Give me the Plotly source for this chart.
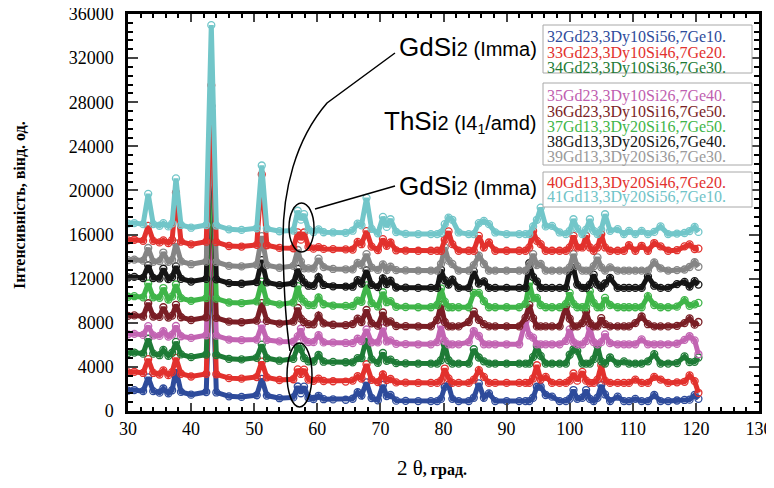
import plotly.graph_objects as go

# ---------------- data ----------------
two_theta = [30.0, 31.0, 32.4, 33.2, 34.0, 35.0, 35.6, 36.4, 37.0, 37.6,
             38.4, 40.0, 42.4, 43.2, 44.0, 46.0, 48.0, 50.4, 51.2, 52.0,
             54.0, 56.2, 56.9, 57.4, 57.9, 58.6, 59.4, 60.2, 61.0, 62.5,
             64.5, 65.6, 66.4, 67.0, 67.8, 68.6, 69.6, 70.4, 71.0, 71.6,
             72.5, 74.0, 76.0, 78.0, 79.0, 79.6, 80.2, 80.8, 81.4, 82.4,
             84.0, 84.8, 85.6, 86.4, 87.2, 88.2, 90.0, 92.0, 93.0, 93.6,
             94.2, 94.8, 95.4, 96.2, 97.2, 98.4, 99.4, 100.0, 100.6, 101.2,
             102.0, 102.6, 103.2, 103.8, 104.4, 105.0, 105.6, 106.4, 107.6, 108.6,
             109.4, 110.4, 111.4, 112.4, 113.4, 114.4, 115.6, 117.0, 118.2, 119.0,
             119.8, 120.4]

sample_names = ["32Gd23,3Dy10Si56,7Ge10.", "33Gd23,3Dy10Si46,7Ge20.",
                "34Gd23,3Dy10Si36,7Ge30.", "35Gd23,3Dy10Si26,7Ge40.",
                "36Gd23,3Dy10Si16,7Ge50.", "37Gd13,3Dy20Si16,7Ge50.",
                "38Gd13,3Dy20Si26,7Ge40.", "39Gd13,3Dy20Si36,7Ge30.",
                "40Gd13,3Dy20Si46,7Ge20.", "41Gd13,3Dy20Si56,7Ge10."]

# vertical offsets of the stacked patterns
offsets = [900, 2550, 4300, 6050, 7670, 9410, 11160, 12730, 14530, 16040]

int_32 = [950, 1000, 900, 2150, 900, 760, 1140, 700, 980, 2860,
          830, 580, 820, 15500, 780, 430, 380, 530, 2020, 500,
          260, 330, 1320, 710, 1305, 300, 190, 480, 170, 150,
          120, 210, 800, 495, 1690, 280, 70, 1460, 455, 550,
          40, 20, 0, 0, 0, 200, 1300, 1450, 200, 0,
          0, 300, 1600, 300, 700, 0, 0, 0, 0, 0,
          300, 1300, 1300, 550, 400, 0, 0, 200, 1000, 200,
          300, 1000, 200, 0, 300, 1450, 600, 0, 400, 0,
          0, 200, 0, 0, 550, 0, 0, 50, 100, 130,
          560, 200]
int_33 = [950, 1000, 900, 2150, 900, 760, 1140, 700, 980, 2260,
          830, 580, 820, 15500, 780, 430, 380, 530, 1920, 500,
          260, 330, 1220, 810, 1205, 300, 190, 380, 170, 150,
          120, 210, 600, 395, 1690, 280, 70, 760, 255, 350,
          40, 20, 0, 0, 0, 200, 1300, 400, 0, 0,
          0, 300, 1150, 550, 0, 0, 0, 0, 0, 0,
          400, 1600, 300, 550, 0, 0, 0, 200, 850, 200,
          1000, 200, 0, 0, 300, 1600, 200, 0, 0, 0,
          0, 300, 0, 0, 550, 300, 0, 50, 100, 680,
          160, -900]
int_34 = [950, 1000, 900, 2250, 900, 760, 1240, 700, 980, 1960,
          830, 580, 820, 14500, 780, 430, 380, 530, 1720, 500,
          260, 430, 1520, 1310, 505, 200, 190, 780, 170, 150,
          120, 110, 500, 495, 2290, 380, 70, 960, 255, 350,
          40, 20, 0, 0, 0, 300, 1750, 300, 0, 0,
          0, 1300, 550, 200, 0, 0, 0, 0, 0, 0,
          600, 1600, 700, 0, 0, 0, 0, 800, 1300, 1150,
          0, 0, 0, 400, 1600, 200, 0, 550, 0, 200,
          0, 0, 0, 200, 850, 0, 0, 50, 650, 130,
          160, 550]
int_35 = [900, 950, 850, 1650, 800, 760, 1190, 700, 880, 1660,
          730, 580, 820, 13500, 780, 430, 380, 430, 1720, 400,
          260, 230, 720, 1410, 405, 200, 190, 830, 170, 150,
          120, 110, 500, 295, 1340, 180, 170, 1460, 255, 350,
          40, 20, 0, 0, 200, 1650, 300, 0, 0, 0,
          200, 1200, 750, 0, 0, 0, 0, 0, 2100, 800,
          600, 0, 0, 0, 0, 0, 300, 1350, 200, 0,
          0, 300, 1500, 200, 0, 200, 900, 100, 0, 0,
          0, 0, 450, 0, 0, 0, 0, 50, 400, 730,
          350, -900]
int_36 = [950, 1000, 900, 2100, 900, 860, 1740, 800, 980, 1960,
          830, 580, 820, 14500, 780, 430, 380, 530, 2120, 500,
          260, 430, 1670, 710, 405, 200, 190, 980, 270, 150,
          120, 210, 700, 395, 1490, 280, 70, 1260, 355, 450,
          40, 20, 0, 0, 600, 1950, 400, 0, 0, 0,
          400, 1350, 600, 200, 0, 0, 0, 0, 800, 1950,
          750, 0, 0, 0, 0, 0, 1800, 700, 0, 0,
          300, 1350, 300, 0, 0, 750, 200, 0, 0, 0,
          0, 300, 900, 200, 0, 0, 0, 50, 300, 730,
          160, 400]
int_37 = [950, 1000, 900, 2150, 900, 860, 1740, 700, 980, 2060,
          830, 580, 820, 15000, 780, 430, 380, 530, 2320, 500,
          260, 430, 1920, 810, 505, 200, 190, 880, 270, 150,
          120, 110, 600, 495, 1990, 380, 70, 1360, 455, 550,
          40, 20, 0, 0, 200, 1700, 500, 0, 0, 0,
          0, 1300, 1300, 550, 0, 0, 0, 0, 300, 2200,
          800, 850, 200, 0, 0, 0, 300, 1300, 300, 0,
          0, 0, 1450, 400, 0, 0, 850, 200, 0, 0,
          0, 0, 0, 1000, 200, 0, 0, 50, 650, 130,
          260, 400]
int_38 = [950, 1000, 900, 2050, 900, 860, 1740, 800, 980, 1960,
          830, 580, 820, 16500, 780, 430, 380, 530, 2520, 500,
          260, 430, 1720, 910, 505, 200, 190, 980, 270, 150,
          120, 110, 700, 395, 1590, 280, 70, 860, 355, 650,
          40, 20, 0, 0, 0, 1650, 700, 300, 750, 0,
          0, 1500, 400, 600, 0, 0, 0, 0, 0, 2250,
          1000, 600, 0, 0, 0, 0, 0, 1500, 1800, 300,
          0, 0, 300, 1200, 300, 0, 400, 900, 0, 0,
          0, 0, 0, 1050, 200, 0, 0, 350, 550, 130,
          610, 300]
int_39 = [950, 1000, 900, 2050, 800, 860, 1640, 800, 980, 2460,
          830, 580, 820, 14500, 780, 430, 380, 530, 3120, 500,
          260, 430, 1870, 810, 205, 200, 190, 1080, 320, 150,
          120, 110, 700, 495, 1490, 280, 70, 560, 55, 350,
          40, 20, 0, 0, 0, 600, 2100, 900, 600, 0,
          0, 500, 1350, 600, 0, 0, 0, 0, 0, 500,
          1500, 500, 600, 0, 0, 0, 0, 300, 1500, 400,
          0, 0, 0, 400, 1200, 300, 0, 300, 0, 0,
          0, 0, 0, 0, 750, 200, 0, 50, 100, 330,
          760, 350]
int_40 = [950, 1000, 900, 2250, 900, 760, 940, 700, 980, 5260,
          830, 580, 820, 15000, 780, 430, 380, 530, 6920, 500,
          260, 230, 1670, 1010, 1655, 350, 190, 330, 170, 150,
          120, 110, 800, 595, 1790, 380, 70, 1060, 455, 750,
          40, 20, 0, 0, 0, 0, 1000, 1750, 600, 0,
          0, 0, 1350, 300, 750, 0, 0, 0, 0, 300,
          1800, 900, 600, 0, 0, 0, 0, 300, 1350, 300,
          300, 1350, 300, 0, 300, 1500, 300, 0, 0, 0,
          500, 0, 450, 0, 700, 400, 0, 50, 400, 580,
          160, 200]
int_41 = [950, 1000, 900, 3650, 900, 760, 990, 700, 980, 5050,
          830, 580, 820, 18950, 780, 430, 380, 530, 6220, 500,
          260, 330, 2120, 1310, 1805, 400, 190, 430, 170, 150,
          120, 310, 950, 795, 3290, 480, 70, 1560, 655, 1350,
          190, 20, 0, 0, 0, 100, 900, 1500, 1300, 150,
          0, 0, 1000, 1200, 900, 150, 0, 0, 0, 0,
          700, 1300, 2400, 700, 750, 150, 0, 300, 1350, 500,
          0, 400, 1350, 300, 0, 400, 1800, 300, 450, 0,
          300, 0, 300, 0, 200, 700, 0, 50, 100, 280,
          660, 200]

intensities = [int_32, int_33, int_34, int_35, int_36,
               int_37, int_38, int_39, int_40, int_41]

# ---------------- styles ----------------
line_colors = ["#2e4b9b", "#e2312d", "#1e7b36", "#c264b2", "#7a1e25",
               "#3fb549", "#151515", "#858585", "#e2312d", "#72c6c9"]
text_colors = ["#2e4b9b", "#e2312d", "#1e7b36", "#bf5fb0", "#7a1e25",
               "#3fb549", "#151515", "#9a9a9a", "#e2312d", "#6fc3c7"]

SERIF = "Liberation Serif, Times New Roman, serif"
SANS = "Liberation Sans, Arial, sans-serif"

fig = go.Figure()
for name, off, vals, col in zip(sample_names, offsets, intensities, line_colors):
    fig.add_trace(go.Scatter(
        x=two_theta, y=[off + v for v in vals], name=name,
        mode="lines+markers",
        line=dict(color=col, width=5),
        marker=dict(symbol="circle-open", size=7, color=col, line=dict(width=1.3)),
        showlegend=False, hoverinfo="skip"))

# plot area on the page: x 128..759, y 14..411
PLOT_H = 397

def dx(px):
    return 30 + (px - 128) / 6.31

def dy(py):
    return (411 - py) * 36000 / PLOT_H

shapes = []
# ellipses around the GdSi2 doublets
shapes.append(dict(type="circle", xref="x", yref="y",
                   x0=dx(287), x1=dx(312), y0=dy(407), y1=dy(343),
                   line=dict(color="black", width=1.5)))
shapes.append(dict(type="circle", xref="x", yref="y",
                   x0=dx(289), x1=dx(314), y0=dy(252), y1=dy(203),
                   line=dict(color="black", width=1.5)))
# leader curve from top label to lower ellipse
path = ("M {:.2f},{:.0f} L {:.2f},{:.0f} C {:.2f},{:.0f} {:.2f},{:.0f} {:.2f},{:.0f} "
        "S {:.2f},{:.0f} {:.2f},{:.0f}").format(
    dx(395), dy(53), dx(327), dy(103),
    dx(296), dy(139), dx(282), dy(190), dx(283), dy(245),
    dx(286), dy(325), dx(290), dy(351))
shapes.append(dict(type="path", xref="x", yref="y", path=path,
                   line=dict(color="black", width=1.5)))
# straight leader to upper ellipse
shapes.append(dict(type="line", xref="x", yref="y",
                   x0=dx(315), y0=dy(209), x1=dx(395), y1=dy(186),
                   line=dict(color="black", width=1.5)))
# legend boxes
for (top, bot) in [(25, 73), (83, 165), (172, 207)]:
    shapes.append(dict(type="rect", xref="x", yref="y",
                       x0=dx(543), x1=dx(752), y0=dy(bot), y1=dy(top),
                       line=dict(color="#a8a8a8", width=1), fillcolor="white"))

annotations = []
line_y = [37, 52.5, 68, 96, 111.5, 127, 142, 157, 183, 197]
for nm, col, py in zip(sample_names, text_colors, line_y):
    annotations.append(dict(x=dx(545), y=dy(py), xref="x", yref="y",
                            text=nm, showarrow=False, xanchor="left", yanchor="middle",
                            font=dict(family=SERIF, size=16, color=col)))

big = '<span style="font-size:26px">{}</span>'
small = '<span style="font-size:20px">{}</span>'
annotations.append(dict(x=dx(397), y=dy(47), xref="x", yref="y", showarrow=False,
                        xanchor="left", yanchor="middle",
                        text=big.format("GdSi") + small.format("2 (Imma)"),
                        font=dict(family=SANS, size=20, color="black")))
annotations.append(dict(x=dx(382), y=dy(121), xref="x", yref="y", showarrow=False,
                        xanchor="left", yanchor="middle",
                        text=big.format("ThSi") + small.format("2 (I4<sub>1</sub>/amd)"),
                        font=dict(family=SANS, size=20, color="black")))
annotations.append(dict(x=dx(397), y=dy(186), xref="x", yref="y", showarrow=False,
                        xanchor="left", yanchor="middle",
                        text=big.format("GdSi") + small.format("2 (Imma)"),
                        font=dict(family=SANS, size=20, color="black")))

# axis titles
annotations.append(dict(x=(20 - 128) / 631, y=(411 - 205) / PLOT_H, xref="paper", yref="paper",
                        showarrow=False, textangle=-90, xanchor="center", yanchor="middle",
                        text="<b>Інтенсивність, вінд. од.</b>",
                        font=dict(family=SERIF, size=16, color="black")))
annotations.append(dict(x=(432 - 128) / 631, y=(411 - 468) / PLOT_H, xref="paper", yref="paper",
                        showarrow=False, xanchor="center", yanchor="middle",
                        text='<span style="font-size:21px">2 θ</span><b>, град.</b>',
                        font=dict(family=SERIF, size=16, color="black")))

# page body adds an 8 px margin, so the figure is 8 px smaller and shifted
fig.update_layout(
    width=766, height=480,
    margin=dict(l=120, r=15, t=6, b=77),
    paper_bgcolor="white", plot_bgcolor="white",
    showlegend=False,
    shapes=shapes, annotations=annotations,
    xaxis=dict(range=[30, 130], tick0=30, dtick=10, ticks="inside", ticklen=8, tickwidth=2,
               linecolor="black", linewidth=2.5, mirror="ticks", showgrid=False, zeroline=False,
               automargin=False, ticklabeloverflow="allow",
               tickfont=dict(family=SERIF, size=18, color="black"),
               minor=dict(dtick=2, ticks="inside", ticklen=4, tickwidth=1.5, tickcolor="black")),
    yaxis=dict(range=[0, 36000], tick0=0, dtick=4000, ticks="inside", ticklen=10, tickwidth=2,
               linecolor="black", linewidth=2.5, mirror="ticks", showgrid=False, zeroline=False,
               automargin=False, tickformat="d", ticklabelstandoff=8, ticklabeloverflow="allow",
               tickfont=dict(family=SERIF, size=18, color="black"),
               minor=dict(dtick=800, ticks="inside", ticklen=5, tickwidth=1.5, tickcolor="black")),
)

fig.write_html("out.html")
